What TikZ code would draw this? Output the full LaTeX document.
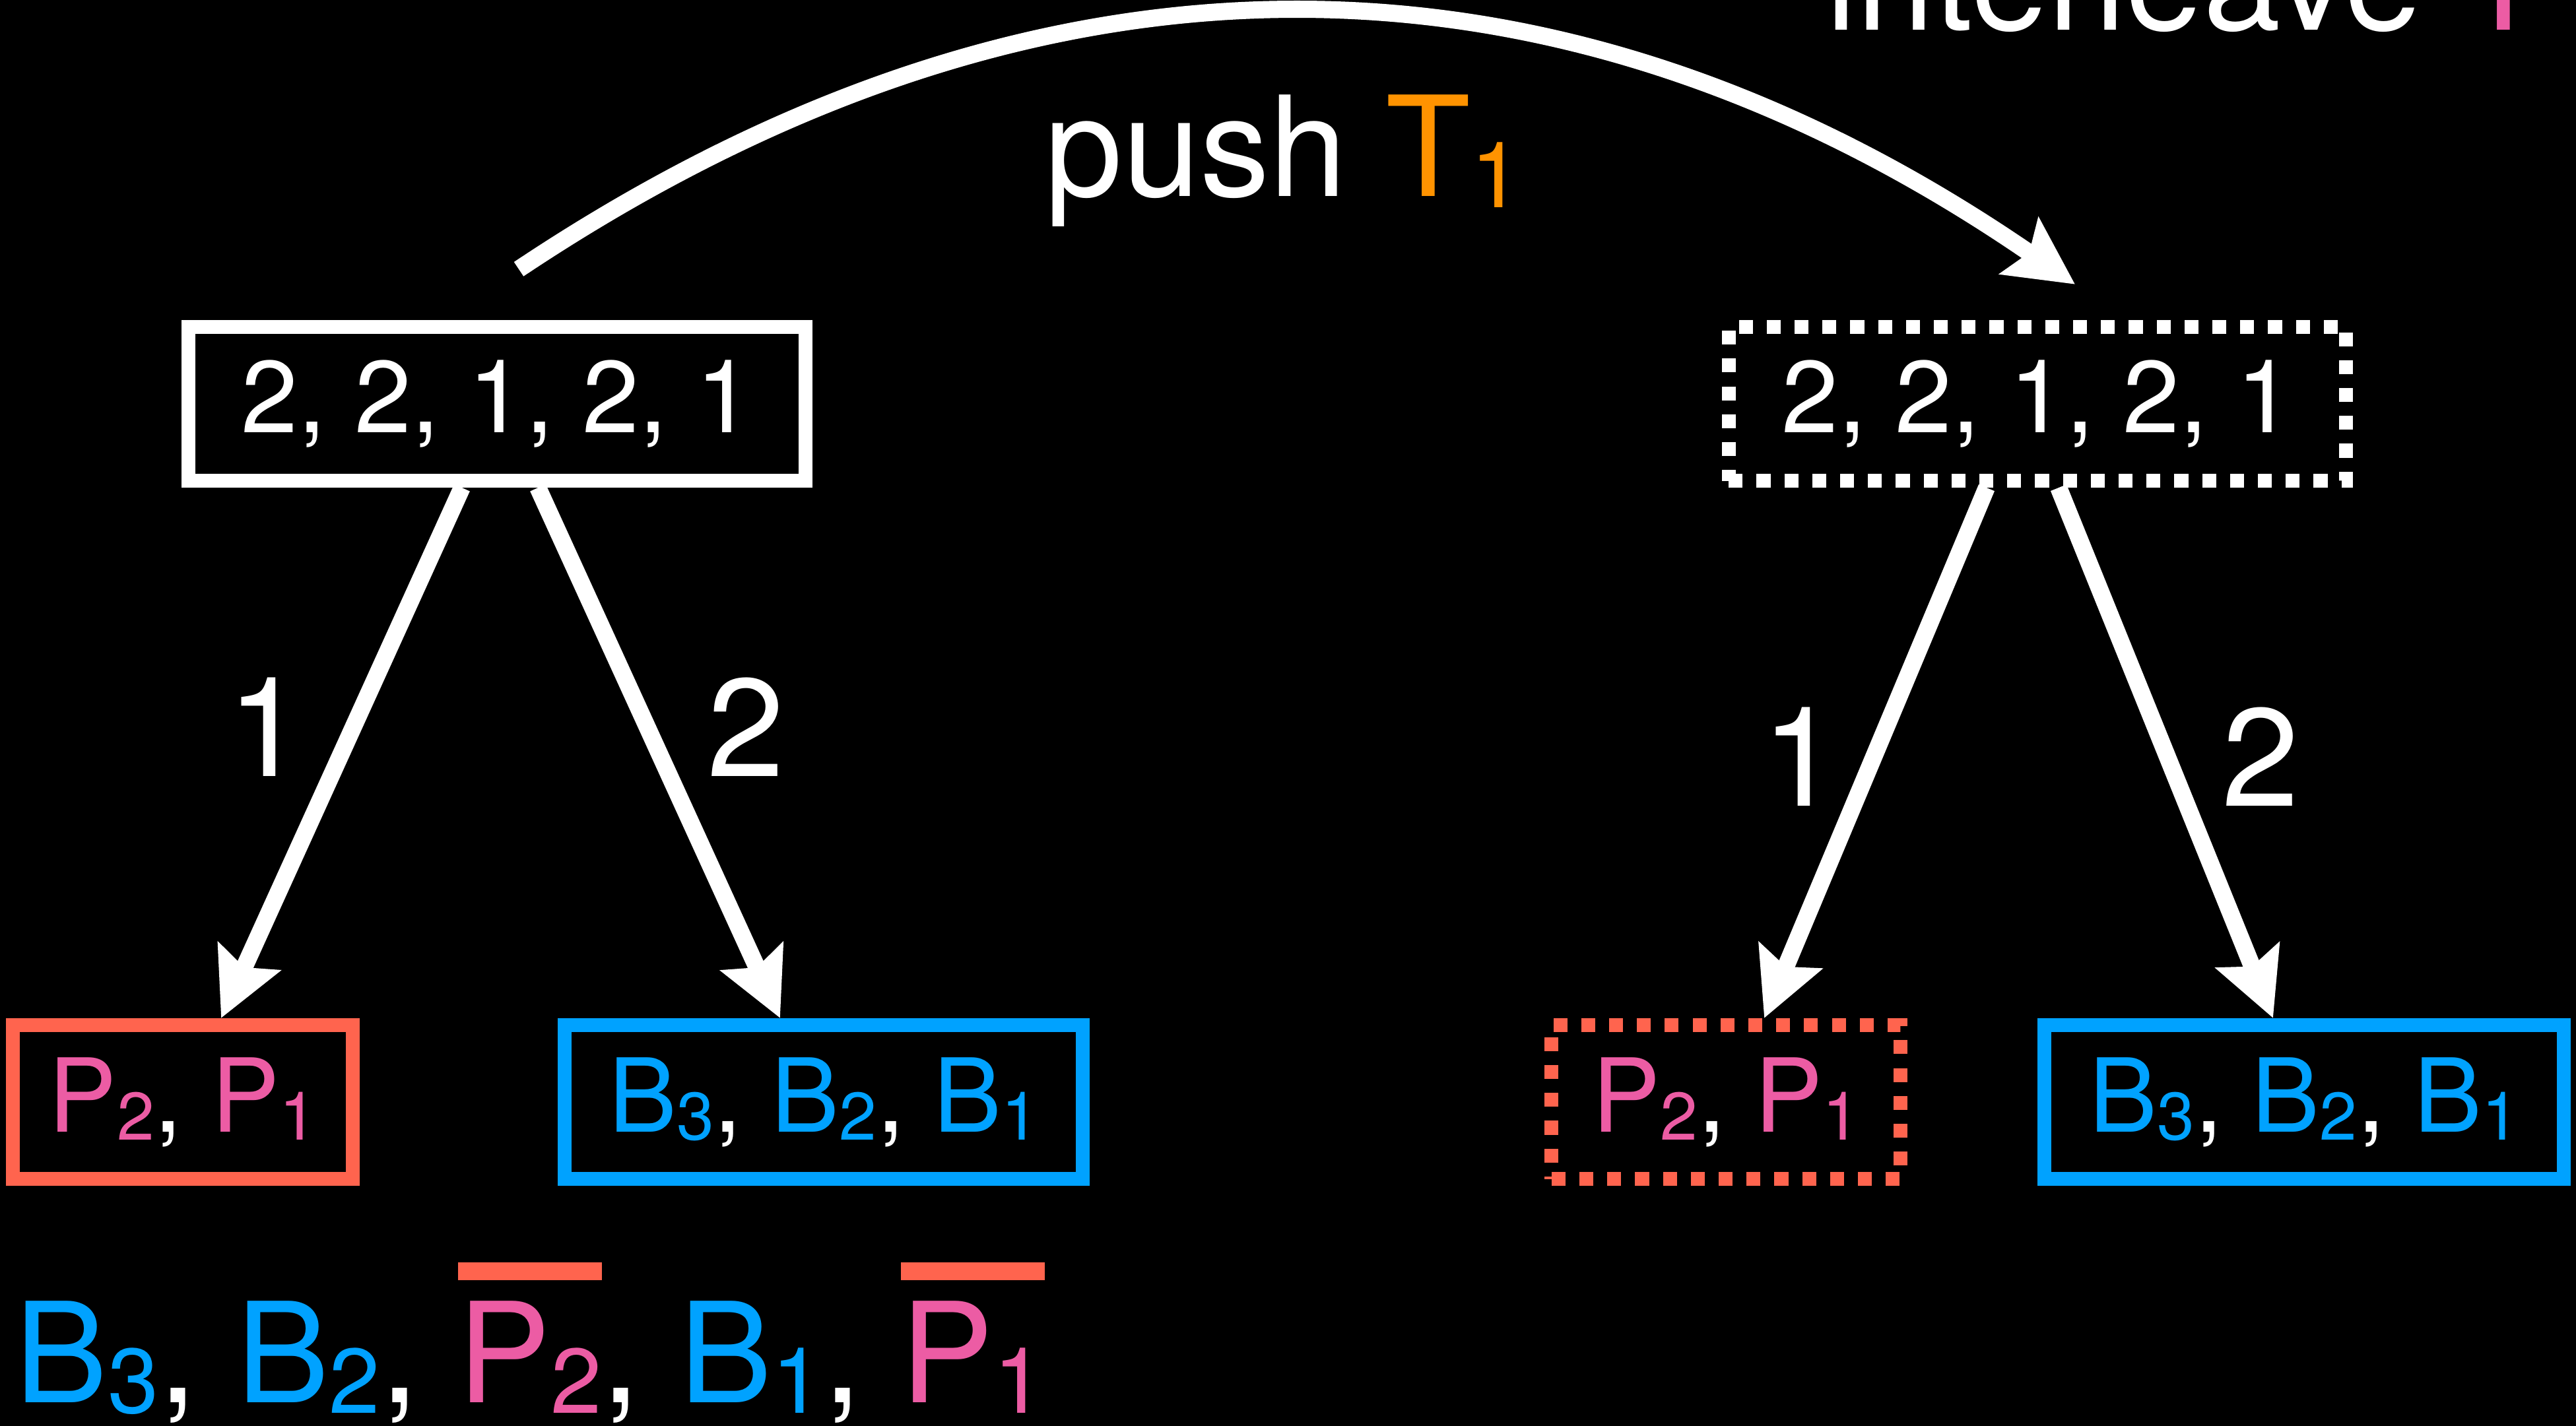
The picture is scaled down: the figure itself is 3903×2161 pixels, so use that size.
\documentclass[tikz,border=0pt]{standalone}
\usepackage{fontspec}
\setmainfont{TeX Gyre Heros}
\usetikzlibrary{arrows.meta, positioning}
\definecolor{pinkP}{RGB}{236,92,164}
\definecolor{redP}{RGB}{255,100,78}
\definecolor{blueB}{RGB}{0,162,255}
\definecolor{orangeT}{RGB}{255,147,0}
\newcommand{\subidx}[1]{\raisebox{-0.08em}{\scalebox{0.66}{#1}}}
\newcommand{\negbar}[1]{\setbox0\hbox{#1}\rlap{\textcolor{redP}{\rule[0.877em]{\wd0}{0.127em}}}\box0}
\newcommand{\elP}[1]{\textcolor{pinkP}{P\subidx{#1}}}
\newcommand{\elB}[1]{\textcolor{blueB}{B\subidx{#1}}}
\tikzset{
  seqbox/.style={rectangle, draw=white, line width=6pt, inner sep=0pt, minimum width=9.35cm, minimum height=2.33cm, text=white, font=\fontsize{44pt}{48pt}\selectfont},
  seqdash/.style={seqbox, dash pattern=on 6pt off 6pt},
  pbox/.style={seqbox, draw=redP, minimum width=5.14cm},
  pdash/.style={pbox, dash pattern=on 6pt off 6pt},
  bluebox/.style={seqbox, draw=blueB, minimum width=7.84cm},
  bigtext/.style={text=white, inner sep=0pt, font=\fontsize{60pt}{66pt}\selectfont},
  link/.style={draw=white, line width=7.4pt, -{Stealth[length=29pt, width=29pt, inset=5pt]}}
}
\begin{document}
\begin{tikzpicture}[x=0.01cm, y=-0.01cm]
  \fill[black] (0,0) rectangle (3903,2161);
  \useasboundingbox (0,0) rectangle (3903,2161);

  % --- sequences ---
  \node[seqbox] (topL) at (753,612) {2, 2, 1, 2, 1};
  \node[seqdash] (topR) at (3087,612) {2, 2, 1, 2, 1};

  % --- stacks ---
  \node[pbox] (botLP) at (277,1670) {\elP{2}, \elP{1}};
  \node[bluebox] (botLB) at (1248,1670) {\elB{3}, \elB{2}, \elB{1}};
  \node[pdash, minimum width=5.28cm] (botRP) at (2615,1670) {\elP{2}, \elP{1}};
  \node[bluebox, minimum width=7.86cm] (botRB) at (3491,1670) {\elB{3}, \elB{2}, \elB{1}};

  % --- texts ---
  \node[bigtext, anchor=base] (push) at (1945,298) {push \textcolor{orangeT}{T\subidx{1}}};
  \node[bigtext, anchor=base east] (inter) at (3858,46) {interleave \textcolor{pinkP}{T}};
  \node[bigtext, anchor=base west] (result) at (22,2125)
    {\elB{3}, \elB{2}, \negbar{\elP{2}}, \elB{1}, \negbar{\elP{1}}};

  % --- edge labels ---
  \node[bigtext, anchor=base] (lab1L) at (403,1176) {1};
  \node[bigtext, anchor=base] (lab2L) at (1130,1176) {2};
  \node[bigtext, anchor=base] (lab1R) at (2728,1221) {1};
  \node[bigtext, anchor=base] (lab2R) at (3425,1221) {2};

  % --- arrows ---
  \coordinate (pushFrom) at ([xshift=0.33cm, yshift=0.77cm]topL.north);
  \coordinate (pushTo) at ([xshift=0.57cm, yshift=0.54cm]topR.north);
  \draw[link] (pushFrom) .. controls +(786,-525) and +(-786,-541) .. (pushTo);

  \draw[link] ([xshift=-0.53cm]topL.south) -- ([xshift=0.58cm]botLP.north);
  \draw[link] ([xshift=0.62cm]topL.south) -- ([xshift=-0.66cm]botLB.north);
  \draw[link] ([xshift=-0.77cm]topR.south) -- ([xshift=0.58cm]botRP.north);
  \draw[link] ([xshift=0.32cm]topR.south) -- ([xshift=-0.47cm]botRB.north);
\end{tikzpicture}
\end{document}
